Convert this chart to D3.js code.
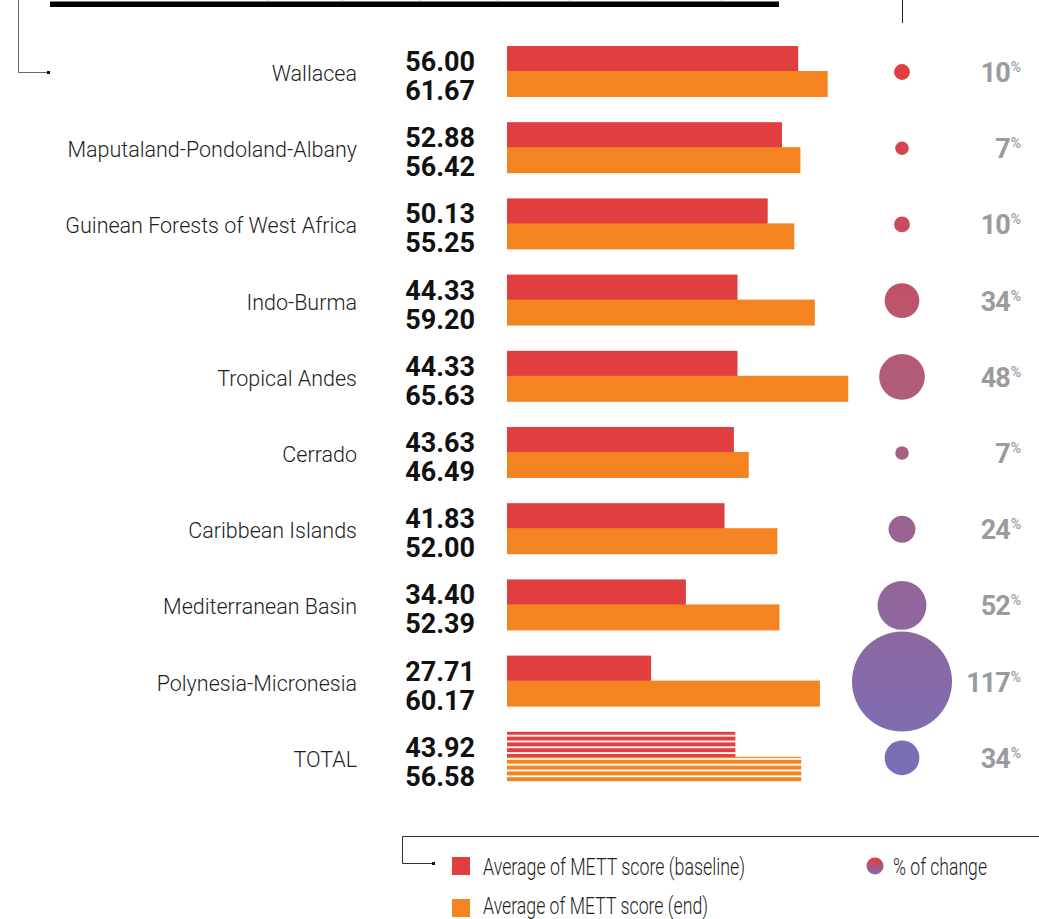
<!DOCTYPE html>
<html>
<head>
<meta charset="utf-8">
<script src="https://cdn.jsdelivr.net/npm/d3@7"></script>
<style>
  html, body { margin: 0; padding: 0; background: #fff; }
  svg { display: block; }
</style>
</head>
<body>
<svg id="chart" width="1039" height="919"></svg>
<script>
// Hotspot METT scores: baseline vs end of project, and the % change
const regions = ["Wallacea", "Maputaland-Pondoland-Albany", "Guinean Forests of West Africa",
  "Indo-Burma", "Tropical Andes", "Cerrado", "Caribbean Islands", "Mediterranean Basin",
  "Polynesia-Micronesia", "TOTAL"];
const baseline = [56.00, 52.88, 50.13, 44.33, 44.33, 43.63, 41.83, 34.40, 27.71, 43.92];
const endScore = [61.67, 56.42, 55.25, 59.20, 65.63, 46.49, 52.00, 52.39, 60.17, 56.58];
const pctChange = [10, 7, 10, 34, 48, 7, 24, 52, 117, 34];
const legendLabels = ["Average of METT score (baseline)", "Average of METT score (end)", "% of change"];

const RED = "#e03e3f", ORANGE = "#f38421", GRAY = "#9b9b9d";
const svg = d3.select("#chart");
const defs = svg.append("defs");

// striped fills for the TOTAL row
function stripes(id, color) {
  const p = defs.append("pattern").attr("id", id).attr("patternUnits", "userSpaceOnUse")
    .attr("width", 10).attr("height", 5.8);
  p.append("rect").attr("width", 10).attr("height", 4).attr("fill", color);
}
stripes("stripeRed", RED);
stripes("stripeOrange", ORANGE);

// vertical colour ramp shared by all circles
const grad = defs.append("linearGradient").attr("id", "circleGrad")
  .attr("gradientUnits", "userSpaceOnUse").attr("x1", 0).attr("x2", 0).attr("y1", 50).attr("y2", 780);
grad.append("stop").attr("offset", 0).attr("stop-color", "#e43b3c");
grad.append("stop").attr("offset", 0.45).attr("stop-color", "#b15c78");
grad.append("stop").attr("offset", 1).attr("stop-color", "#776fb8");
const legendGrad = defs.append("linearGradient").attr("id", "legendGrad")
  .attr("x1", 0).attr("x2", 0).attr("y1", 0).attr("y2", 1);
legendGrad.append("stop").attr("offset", 0).attr("stop-color", "#e43b3c");
legendGrad.append("stop").attr("offset", 1).attr("stop-color", "#7a6db5");

// scales
const y = d3.scaleBand().domain(regions).range([33.9, 795.9]).padding(0);
const cy = r => y(r) + y.bandwidth() / 2;
const x = d3.scaleLinear().domain([0, 100]).range([507, 1027]);
const rScale = d3.scaleLinear().domain([0, 117]).range([4, 50]);

// frame decorations
svg.append("rect").attr("x", 50).attr("y", 1.5).attr("width", 729).attr("height", 5.5).attr("fill", "#000");
[115, 192, 268, 343, 420, 497, 570, 645, 722].forEach(t =>
  svg.append("line").attr("x1", t).attr("x2", t).attr("y1", 0).attr("y2", 1.5)
    .attr("stroke", "#bbb").attr("stroke-width", 1));
svg.append("line").attr("x1", 902.5).attr("x2", 902.5).attr("y1", 0).attr("y2", 23)
  .attr("stroke", "#222").attr("stroke-width", 1);
svg.append("path").attr("d", "M18.5,0 V72.5 H48").attr("fill", "none").attr("stroke", "#666").attr("stroke-width", 1);
svg.append("rect").attr("x", 47).attr("y", 71).attr("width", 3).attr("height", 3).attr("fill", "#111");

const rows = svg.append("g").selectAll("g").data(regions).join("g");

// category names
rows.append("text")
  .attr("x", 357).attr("y", d => cy(d) + 9)
  .attr("text-anchor", "end")
  .attr("font-family", "Roboto, sans-serif").attr("font-weight", 300).attr("font-size", 21.5)
  .attr("fill", "#1e1e1e")
  .text(d => d);

// bars
rows.append("rect")
  .attr("x", x(0)).attr("y", d => cy(d) - 26)
  .attr("width", (d, i) => x(baseline[i]) - x(0)).attr("height", 26)
  .attr("fill", d => d === "TOTAL" ? "url(#stripeRed)" : RED);
rows.append("rect")
  .attr("x", x(0)).attr("y", d => cy(d) - 1)
  .attr("width", (d, i) => x(endScore[i]) - x(0)).attr("height", 26)
  .attr("fill", d => d === "TOTAL" ? "url(#stripeOrange)" : ORANGE);

// value labels
const valueFont = sel => sel.attr("text-anchor", "end")
  .attr("font-family", "Roboto, sans-serif").attr("font-weight", 700).attr("font-size", 27)
  .attr("fill", "#111");
rows.append("text").attr("x", 475).attr("y", d => cy(d) - 1)
  .call(valueFont).text((d, i) => baseline[i].toFixed(2));
rows.append("text").attr("x", 475).attr("y", d => cy(d) + 28)
  .call(valueFont).text((d, i) => endScore[i].toFixed(2));

// change circles
rows.append("circle")
  .attr("cx", 902).attr("cy", d => cy(d))
  .attr("r", (d, i) => rScale(pctChange[i]))
  .attr("fill", "url(#circleGrad)");

// change labels with superscript %
const pct = rows.append("text")
  .attr("x", 1021).attr("y", d => cy(d) + 10)
  .attr("text-anchor", "end")
  .attr("font-family", "Roboto, sans-serif").attr("font-weight", 700)
  .attr("fill", GRAY);
pct.append("tspan").attr("font-size", 27).attr("letter-spacing", -1).text((d, i) => pctChange[i]);
pct.append("tspan").attr("font-size", 14).attr("font-weight", 500).attr("dx", 1).attr("dy", -10).text("%");

// legend
svg.append("path").attr("d", "M1039,836.5 H402.5 V863.5 H433").attr("fill", "none")
  .attr("stroke", "#333").attr("stroke-width", 1);
svg.append("rect").attr("x", 432).attr("y", 862).attr("width", 3).attr("height", 3).attr("fill", "#111");

const legendFont = (sel, w) => sel.attr("font-family", "Roboto, sans-serif").attr("font-weight", 300)
  .attr("font-size", 23).attr("fill", "#1e1e1e")
  .attr("textLength", w).attr("lengthAdjust", "spacingAndGlyphs");
svg.append("rect").attr("x", 452).attr("y", 857).attr("width", 18).attr("height", 18).attr("fill", RED);
svg.append("text").attr("x", 483).attr("y", 875).call(legendFont, 262).text(legendLabels[0]);
svg.append("rect").attr("x", 452).attr("y", 899).attr("width", 18).attr("height", 18).attr("fill", ORANGE);
svg.append("text").attr("x", 483).attr("y", 914).call(legendFont, 225).text(legendLabels[1]);
svg.append("circle").attr("cx", 875).attr("cy", 866).attr("r", 8.5).attr("fill", "url(#legendGrad)");
svg.append("text").attr("x", 893).attr("y", 875).call(legendFont, 94).text(legendLabels[2]);
</script>
</body>
</html>
